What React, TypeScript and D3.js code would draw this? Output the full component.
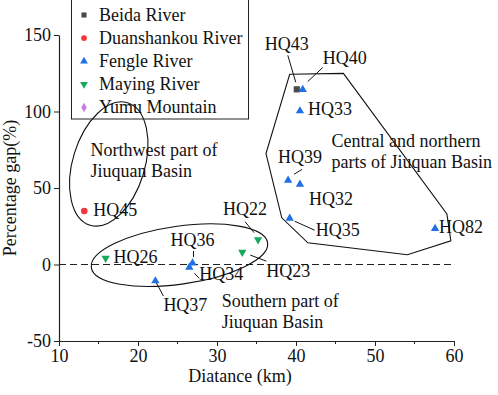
import { useEffect, useRef } from "react";
import * as d3 from "d3";

// legend order
const groupNames = ["Beida River", "Duanshankou River", "Fengle River", "Maying River", "Yumu Mountain"];
const groupColors = ["#4a4a4a", "#f5363a", "#1f6fe6", "#16a85c", "#c77de8"];

// sample points
const siteNames = ["HQ43", "HQ40", "HQ33", "HQ39", "HQ32", "HQ35", "HQ82", "HQ45", "HQ26", "HQ36", "HQ34", "HQ37", "HQ22", "HQ23"];
const siteGroups = [0, 2, 2, 2, 2, 2, 2, 1, 3, 2, 2, 2, 3, 3];
const distanceKm = [40.1, 40.85, 40.5, 39.0, 40.5, 39.2, 57.6, 13.2, 15.9, 26.9, 26.5, 22.2, 35.2, 33.2];
const gapPct = [114.5, 115, 101, 55.7, 53.1, 30.9, 24.2, 35.0, 4.2, 1.6, -1.2, -10.1, 16.2, 8.1];

const xTicks = [10, 20, 30, 40, 50, 60];
const xMinor = [15, 25, 35, 45, 55];
const yTicks = [-50, 0, 50, 100, 150];

// hull around central / northern sites (km, %)
const hullKm = [39.2, 46.0, 59.1, 59.6, 54.1, 41.5, 38.2, 36.2];
const hullPct = [124.3, 124.9, 33.1, 15.5, 6.4, 14.2, 30.5, 72.5];

// label placement: [dx, dy, leader x1, y1, x2, y2] relative to the point, pixels
const labelPos: Record<string, number[]> = {
  HQ43: [-32, -39, -9, -34, -1, -7],
  HQ40: [20, -25, 20, -21, 5, -7],
  HQ33: [8, 5],
  HQ39: [-10, -16, 14, -10, 6, -5],
  HQ32: [9, 22],
  HQ35: [26, 19, 5, 4, 25, 13],
  HQ82: [4, 6],
  HQ45: [9, 5],
  HQ26: [8, 5],
  HQ36: [-22, -16, 1, -11, 1, -5],
  HQ34: [10, 14, 5, 7, 10, 12],
  HQ37: [8, 31, 1, 3, 8, 16],
  HQ22: [-35, -25, -13, -18, -4, -7],
  HQ23: [24, 25, 8, 3, 24, 9],
};

const W = 498;
const H = 395;
const FONT = "Liberation Serif";

export default function App() {
  const svgRef = useRef<SVGSVGElement>(null);

  useEffect(() => {
    if (!svgRef.current) return;
    const svg = d3.select(svgRef.current);
    svg.selectAll("*").remove();

    const x = d3.scaleLinear().domain([10, 60]).range([59, 454]);
    const y = d3.scaleLinear().domain([-50, 150]).range([341, 35]);

    const g = svg.append("g");

    const label = (sel: d3.Selection<SVGGElement, unknown, null, undefined>) =>
      sel.append("text")
        .attr("font-family", FONT)
        .attr("font-size", 18)
        .attr("fill", "#111");

    // zero reference line
    g.append("line")
      .attr("x1", x(10))
      .attr("x2", x(60))
      .attr("y1", y(0))
      .attr("y2", y(0))
      .attr("stroke", "#222")
      .attr("stroke-width", 1)
      .attr("stroke-dasharray", "7,4");

    // axes
    const xAxis = g.append("g")
      .attr("transform", `translate(0,${y(-50)})`)
      .call(d3.axisBottom(x).tickValues(xTicks).tickSize(5).tickPadding(3).tickSizeOuter(0).tickFormat((d) => String(d)));
    xAxis.append("g")
      .selectAll("line")
      .data(xMinor)
      .join("line")
      .attr("x1", (d) => x(d))
      .attr("x2", (d) => x(d))
      .attr("y1", 0)
      .attr("y2", 3)
      .attr("stroke", "#222");

    const yAxis = g.append("g")
      .attr("transform", `translate(${x(10)},0)`)
      .call(d3.axisLeft(y).tickValues(yTicks).tickSize(5).tickPadding(3).tickSizeOuter(0).tickFormat((d) => String(d)));

    [xAxis, yAxis].forEach((a) => {
      a.attr("font-family", FONT).attr("font-size", 18);
      a.selectAll("text").attr("fill", "#111");
      a.selectAll(".domain").attr("stroke", "#222").attr("stroke-width", 1.2);
      a.selectAll(".tick line").attr("stroke", "#222");
    });

    // axis titles
    label(g)
      .attr("x", 240)
      .attr("y", 382)
      .attr("text-anchor", "middle")
      .text("Diatance (km)");
    label(g)
      .attr("transform", `translate(16,${(y(-50) + y(150)) / 2}) rotate(-90)`)
      .attr("text-anchor", "middle")
      .text("Percentage gap(%)");

    // region outlines
    const ellipses = [
      { km: 16.3, pct: 65.7, rx: 36, ry: 64, rot: 17 },
      { km: 25.25, pct: 6.1, rx: 89, ry: 29, rot: -8 },
    ];
    g.append("g")
      .selectAll("ellipse")
      .data(ellipses)
      .join("ellipse")
      .attr("transform", (d) => `translate(${x(d.km)},${y(d.pct)}) rotate(${d.rot})`)
      .attr("rx", (d) => d.rx)
      .attr("ry", (d) => d.ry)
      .attr("fill", "none")
      .attr("stroke", "#111")
      .attr("stroke-width", 1.1);

    const hull = d3.line<number>()
      .x((i) => x(hullKm[i]))
      .y((i) => y(hullPct[i]));
    g.append("path")
      .attr("d", hull(d3.range(hullKm.length)) + "Z")
      .attr("fill", "none")
      .attr("stroke", "#111")
      .attr("stroke-width", 1.1);

    // region captions
    const captions = [
      { km: 14.0, pct: 71, lines: ["Northwest part of", "Jiuquan Basin"] },
      { km: 44.5, pct: 77, lines: ["Central and northern", "parts of Jiuquan Basin"] },
      { km: 30.6, pct: -27.5, lines: ["Southern part of", "Jiuquan Basin"] },
    ];
    captions.forEach((c) => {
      const t = label(g).attr("x", x(c.km)).attr("y", y(c.pct));
      c.lines.forEach((ln, i) => {
        t.append("tspan").attr("x", x(c.km)).attr("dy", i === 0 ? 0 : 21).text(ln);
      });
    });

    // markers
    const shapes = [d3.symbolSquare, d3.symbolCircle, d3.symbolTriangle, d3.symbolTriangle, d3.symbolDiamond];
    const sizes = [38, 34, 30, 30, 30];
    const rot = [0, 0, 0, 180, 0];

    const pts = g.append("g");
    siteNames.forEach((name, i) => {
      const px = x(distanceKm[i]);
      const py = y(gapPct[i]);
      const k = siteGroups[i];
      pts.append("path")
        .attr("d", d3.symbol(shapes[k], sizes[k])())
        .attr("transform", `translate(${px},${py + (k === 2 ? 1 : 0)}) rotate(${rot[k]})`)
        .attr("fill", groupColors[k]);

      const lp = labelPos[name];
      if (lp.length > 2) {
        pts.append("line")
          .attr("x1", px + lp[2])
          .attr("y1", py + lp[3])
          .attr("x2", px + lp[4])
          .attr("y2", py + lp[5])
          .attr("stroke", "#111")
          .attr("stroke-width", 1);
      }
      label(pts)
        .attr("x", px + lp[0])
        .attr("y", py + lp[1])
        .text(name);
    });

    // legend (transparent box, the ellipse shows through)
    const lg = g.append("g");
    lg.append("rect")
      .attr("x", 71.5)
      .attr("y", -1)
      .attr("width", 177)
      .attr("height", 120)
      .attr("fill", "none")
      .attr("stroke", "#222")
      .attr("stroke-width", 1);
    groupNames.forEach((name, i) => {
      const ly = 15 + i * 23.1;
      lg.append("path")
        .attr("d", d3.symbol(shapes[i], 26)())
        .attr("transform", `translate(84,${ly}) rotate(${rot[i]})`)
        .attr("fill", groupColors[i]);
      label(lg)
        .attr("x", 99)
        .attr("y", ly + 6)
        .text(name);
    });
  }, []);

  return (
    <svg
      ref={svgRef}
      width={W}
      height={H}
      style={{ position: "absolute", left: 0, top: 0, background: "white" }}
    />
  );
}
